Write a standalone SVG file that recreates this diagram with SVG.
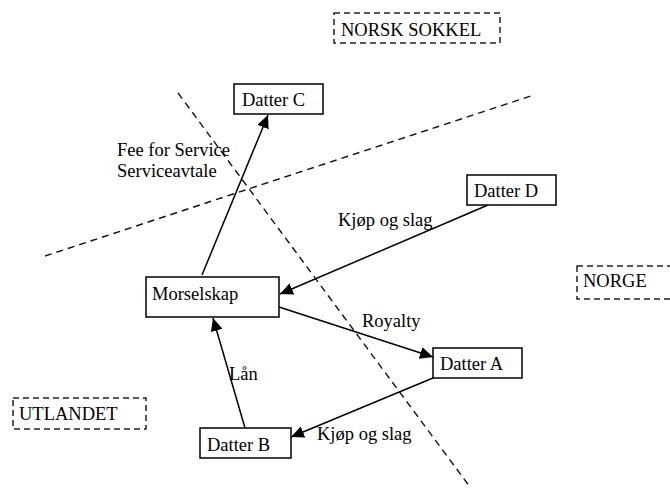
<svg xmlns="http://www.w3.org/2000/svg" width="670" height="498" viewBox="0 0 670 498">
<style>
text{font-family:"Liberation Serif","DejaVu Serif","Noto Serif",serif;font-size:18.5px;fill:#000}
.box{fill:#fff;stroke:#000;stroke-width:1.5}
.zone{fill:none;stroke:#222;stroke-width:1.5;stroke-dasharray:6 4}
.div{fill:none;stroke:#111;stroke-width:1.4;stroke-dasharray:7 5}
.edge{fill:none;stroke:#000;stroke-width:1.5;marker-end:url(#arr)}
</style>
<defs>
<marker id="arr" markerUnits="userSpaceOnUse" markerWidth="14" markerHeight="12" refX="13" refY="6" orient="auto">
<path d="M0,0 L13,6 L0,12 Z" fill="#000"/>
</marker>
</defs>
<rect width="670" height="498" fill="#fff"/>
<g id="dividers">
<line class="div" x1="178" y1="93" x2="470" y2="487"/>
<line class="div" x1="45" y1="256" x2="534" y2="95"/>
</g>
<g id="zones">
<g id="norsk-sokkel"><rect class="zone" x="334" y="13" width="166" height="30"/><text x="341" y="36" font-family="Liberation Serif, serif">NORSK SOKKEL</text></g>
<g id="norge"><rect class="zone" x="577" y="266" width="110" height="33"/><text x="583" y="287">NORGE</text></g>
<g id="utlandet"><rect class="zone" x="13" y="398" width="133" height="31"/><text x="19" y="420">UTLANDET</text></g>
</g>
<g id="connectors">
<line class="edge" x1="202" y1="275" x2="268" y2="115"/>
<line class="edge" x1="488" y1="205" x2="280" y2="294"/>
<line class="edge" x1="279" y1="307" x2="433" y2="357"/>
<line class="edge" x1="433" y1="378" x2="291" y2="437"/>
<line class="edge" x1="245" y1="428" x2="213" y2="318"/>
<text x="117" y="156">Fee for Service</text>
<text x="117" y="177">Serviceavtale</text>
<text x="338" y="226">Kjøp og slag</text>
<text x="362" y="327">Royalty</text>
<text x="317" y="440">Kjøp og slag</text>
<text x="229" y="380">Lån</text>
</g>
<g id="morselskap"><rect class="box" x="146" y="277" width="133" height="40"/><text x="152" y="300">Morselskap</text></g>
<g id="datter-c"><rect class="box" x="234" y="84" width="89" height="30"/><text x="242" y="106">Datter C</text></g>
<g id="datter-d"><rect class="box" x="467" y="175" width="89" height="30"/><text x="474" y="197">Datter D</text></g>
<g id="datter-a"><rect class="box" x="433" y="348" width="89" height="30"/><text x="440" y="370">Datter A</text></g>
<g id="datter-b"><rect class="box" x="200" y="428" width="91" height="30"/><text x="207" y="451">Datter B</text></g>
</svg>
